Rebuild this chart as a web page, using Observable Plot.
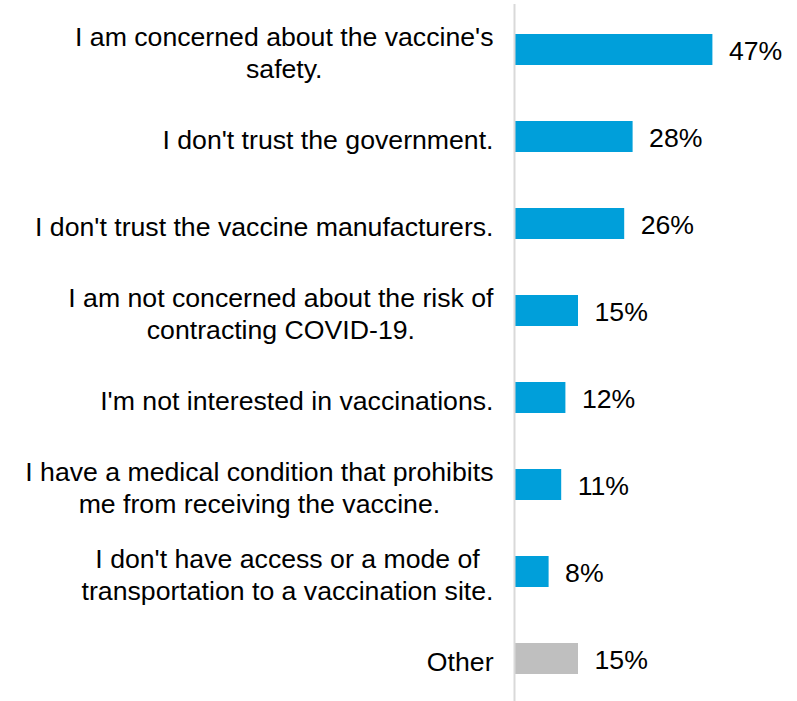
<!DOCTYPE html>
<html>
<head>
<meta charset="utf-8">
<script src="https://cdn.jsdelivr.net/npm/d3@7"></script>
<script src="https://cdn.jsdelivr.net/npm/@observablehq/plot@0.6"></script>
<style>
  html, body { margin: 0; padding: 0; background: #fff; }
  #chart svg { display: block; }
</style>
</head>
<body>
<div id="chart"></div>
<script>
const categories = [
  "I am concerned about the vaccine's\nsafety.",
  "I don't trust the government.",
  "I don't trust the vaccine manufacturers.",
  "I am not concerned about the risk of\ncontracting COVID-19.",
  "I'm not interested in vaccinations.",
  "I have a medical condition that prohibits\nme from receiving the vaccine.",
  "I don't have access or a mode of\ntransportation to a vaccination site.",
  "Other"
];
const values = [47, 28, 26, 15, 12, 11, 8, 15];
const groups = ["main", "main", "main", "main", "main", "main", "main", "other"];

const data = categories.map((c, i) => ({category: c, value: values[i], group: groups[i]}));

const fontFamily = '"Liberation Sans", Arial, sans-serif';
const fontSize = 26.67;

const ctx = document.createElement("canvas").getContext("2d");
ctx.font = `${fontSize}px ${fontFamily}`;
const blockWidth = s => Math.max(...s.split("\n").map(l => ctx.measureText(l).width));

const labelGap = 22;
const labelMarks = data.map(d => Plot.text([d], {
  x: () => 0,
  y: "category",
  text: "category",
  textAnchor: "middle",
  lineAnchor: "middle",
  lineHeight: 1.2,
  dx: -(labelGap + blockWidth(d.category) / 2),
  dy: 1.5,
  fill: "#000",
  fontSize: fontSize
}));

const chart = Plot.plot({
  width: 797,
  height: 705,
  marginTop: 4,
  marginBottom: 0,
  marginLeft: 515,
  marginRight: 72,
  style: {fontFamily: fontFamily, background: "#fff"},
  x: {domain: [0, 50], axis: null},
  y: {domain: categories, paddingInner: 0.64, paddingOuter: 0.32, axis: null},
  color: {domain: ["main", "other"], range: ["#009FDA", "#BFBFBF"]},
  marks: [
    Plot.barX(data, {x: "value", y: "category", fill: "group"}),
    Plot.ruleX([0], {stroke: "#D9D9D9", strokeWidth: 2, dx: -1}),
    Plot.text(data, {
      x: "value",
      y: "category",
      text: d => `${d.value}%`,
      textAnchor: "start",
      dx: 16,
      dy: 1.5,
      fill: "#000",
      fontSize: fontSize
    }),
    ...labelMarks
  ]
});

document.getElementById("chart").appendChild(chart);
</script>
</body>
</html>
